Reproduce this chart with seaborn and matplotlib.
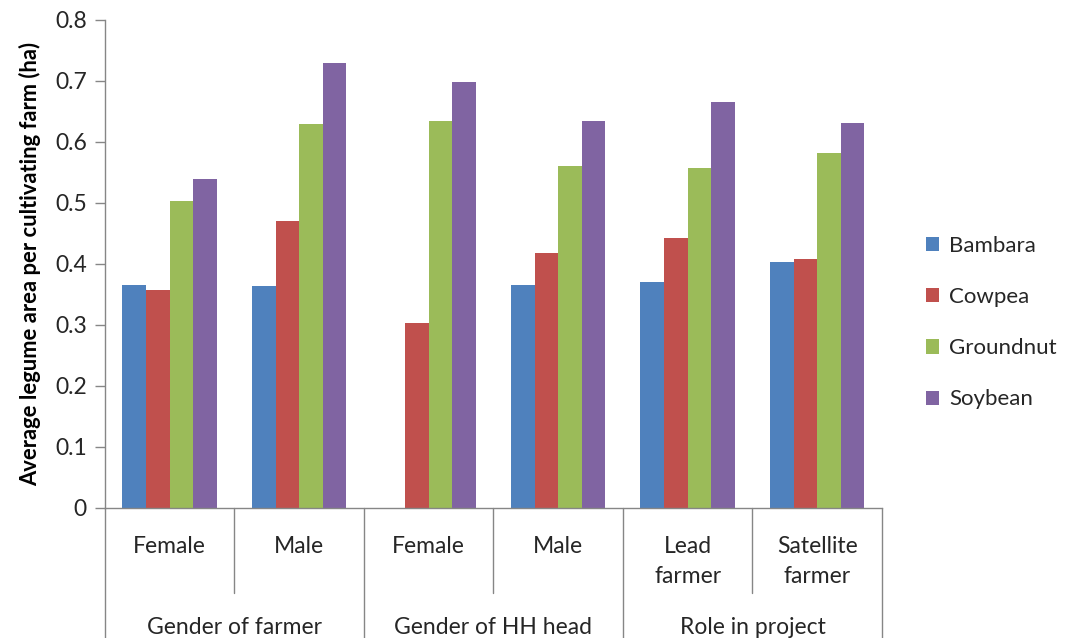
import numpy as np
import pandas as pd
import matplotlib
matplotlib.use("Agg")
import matplotlib.pyplot as plt
import seaborn as sns

# Category structure: outer groups and the sub-categories inside each
groups = ["Gender of farmer", "Gender of HH head", "Role in project"]
subcats = [["Female", "Male"], ["Female", "Male"], ["Lead\nfarmer", "Satellite\nfarmer"]]
crops = ["Bambara", "Cowpea", "Groundnut", "Soybean"]

# Average legume area (ha) per cultivating farm, one list per crop
bambara = [0.365, 0.364, np.nan, 0.366, 0.370, 0.403]
cowpea = [0.357, 0.470, 0.303, 0.418, 0.443, 0.408]
groundnut = [0.503, 0.629, 0.635, 0.560, 0.557, 0.582]
soybean = [0.539, 0.730, 0.698, 0.635, 0.666, 0.631]

colors = ["#4F81BD", "#C0504D", "#9BBB59", "#8064A2"]
axis_grey = "#868686"
text_col = "#262626"

sns.set_theme(style="white")
plt.rcParams["font.family"] = ["Lato", "DejaVu Sans"]

# Long-form table with unique keys for repeated sub-category names
keys, sub_labels = [], []
for g, subs in zip(groups, subcats):
    for s in subs:
        keys.append(f"{g}|{s}")
        sub_labels.append(s)

rows = []
for crop, vals in zip(crops, [bambara, cowpea, groundnut, soybean]):
    for k, v in zip(keys, vals):
        rows.append({"category": k, "crop": crop, "area": v})
df = pd.DataFrame(rows)

fig = plt.figure(figsize=(10.68, 6.38), dpi=100)
ax = fig.add_axes([0.0983, 0.2038, 0.7275, 0.7649])

sns.barplot(data=df, x="category", y="area", hue="crop", order=keys,
            hue_order=crops, palette=colors, width=0.73, linewidth=0,
            errorbar=None, ax=ax, saturation=1)

ax.set_xlim(-0.5, len(keys) - 0.5)
ax.set_ylim(0, 0.8)
ax.set_yticks(np.arange(0, 0.81, 0.1))
ax.set_yticklabels(["0"] + [f"{t:.1f}" for t in np.arange(0.1, 0.81, 0.1)],
                   fontsize=16.5, color=text_col)
ax.tick_params(axis="y", direction="out", length=7, width=1, color=axis_grey,
               pad=6, left=True)
ax.set_xticks([])
ax.set_xlabel("")
ax.set_ylabel("Average legume area per cultivating farm (ha)", fontsize=15.8,
              fontweight="bold", color="black", labelpad=10)

for side in ["top", "right"]:
    ax.spines[side].set_visible(False)
for side in ["left", "bottom"]:
    ax.spines[side].set_color(axis_grey)
    ax.spines[side].set_linewidth(1)

# Multi-level category axis: separator lines and labels below the plot
trans = ax.get_xaxis_transform()
idx = 0
bounds_outer = [-0.5]
for g, subs in zip(groups, subcats):
    start = idx
    for s in subs:
        ax.text(idx, -0.057, s, transform=trans, ha="center", va="top",
                fontsize=16.5, color=text_col, linespacing=1.55)
        idx += 1
    # inner separators
    for b in range(start + 1, idx):
        ax.plot([b - 0.5, b - 0.5], [0, -0.175], transform=trans,
                color=axis_grey, lw=1, clip_on=False)
    bounds_outer.append(idx - 0.5)
    ax.text((start + idx - 1) / 2, -0.245, g, transform=trans, ha="center",
            va="center", fontsize=16.5, color=text_col)
for b in bounds_outer:
    ax.plot([b, b], [0, -0.3], transform=trans, color=axis_grey, lw=1,
            clip_on=False)

leg = ax.legend(loc="center left", bbox_to_anchor=(0.848, 0.494),
                bbox_transform=fig.transFigure, frameon=False, fontsize=16,
                handlelength=0.6, handleheight=0.6, handletextpad=0.45,
                labelspacing=1.4)
for t in leg.get_texts():
    t.set_color(text_col)

fig.savefig("out.png", dpi=100)
